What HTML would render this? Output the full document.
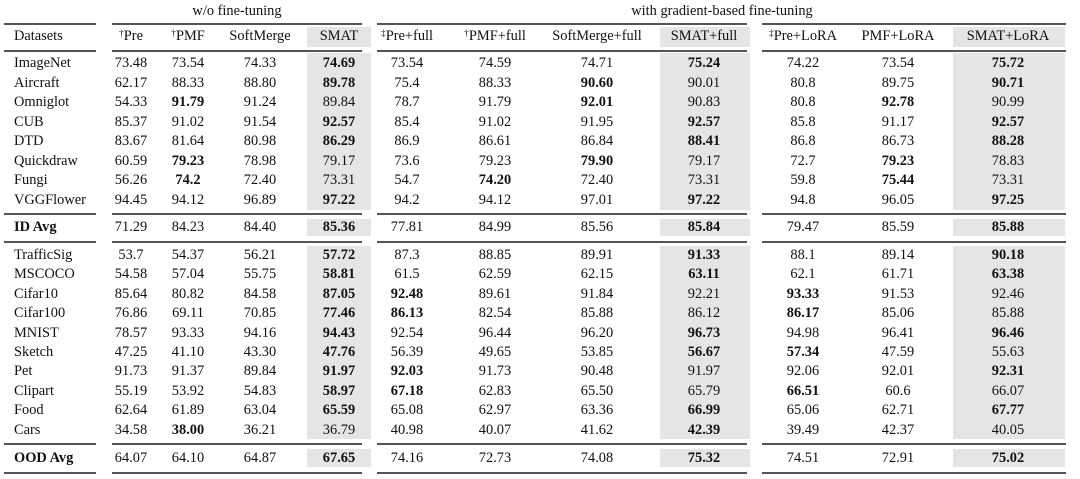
<!DOCTYPE html>
<html><head><meta charset="utf-8">
<style>
body{margin:0;background:#fff;width:1080px;height:479px;overflow:hidden;position:relative;font-family:"Liberation Serif",serif;color:#111}
.t{position:absolute;font-size:14.4px;white-space:nowrap;transform:translate(-50%,-50%);line-height:1}
.l{position:absolute;font-size:14.4px;white-space:nowrap;transform:translateY(-50%);line-height:1}
.r{position:absolute;background:#555;height:1.5px}
.s{position:absolute;background:#e5e5e5}
sup{font-size:9.5px;vertical-align:4px}
</style></head><body>
<div id="tbl"></div>
<script>
const groupTitles=["w/o fine-tuning","with gradient-based fine-tuning"];
const headers=["<sup>†</sup>Pre","<sup>†</sup>PMF","SoftMerge","SMAT","<sup>‡</sup>Pre+full","<sup>†</sup>PMF+full","SoftMerge+full","SMAT+full","<sup>‡</sup>Pre+LoRA","PMF+LoRA","SMAT+LoRA"];
const datasets=["ImageNet","Aircraft","Omniglot","CUB","DTD","Quickdraw","Fungi","VGGFlower","ID Avg","TrafficSig","MSCOCO","Cifar10","Cifar100","MNIST","Sketch","Pet","Clipart","Food","Cars","OOD Avg"];
const values=[
"73.48 73.54 74.33 *74.69 73.54 74.59 74.71 *75.24 74.22 73.54 *75.72",
"62.17 88.33 88.80 *89.78 75.4 88.33 *90.60 90.01 80.8 89.75 *90.71",
"54.33 *91.79 91.24 89.84 78.7 91.79 *92.01 90.83 80.8 *92.78 90.99",
"85.37 91.02 91.54 *92.57 85.4 91.02 91.95 *92.57 85.8 91.17 *92.57",
"83.67 81.64 80.98 *86.29 86.9 86.61 86.84 *88.41 86.8 86.73 *88.28",
"60.59 *79.23 78.98 79.17 73.6 79.23 *79.90 79.17 72.7 *79.23 78.83",
"56.26 *74.2 72.40 73.31 54.7 *74.20 72.40 73.31 59.8 *75.44 73.31",
"94.45 94.12 96.89 *97.22 94.2 94.12 97.01 *97.22 94.8 96.05 *97.25",
"71.29 84.23 84.40 *85.36 77.81 84.99 85.56 *85.84 79.47 85.59 *85.88",
"53.7 54.37 56.21 *57.72 87.3 88.85 89.91 *91.33 88.1 89.14 *90.18",
"54.58 57.04 55.75 *58.81 61.5 62.59 62.15 *63.11 62.1 61.71 *63.38",
"85.64 80.82 84.58 *87.05 *92.48 89.61 91.84 92.21 *93.33 91.53 92.46",
"76.86 69.11 70.85 *77.46 *86.13 82.54 85.88 86.12 *86.17 85.06 85.88",
"78.57 93.33 94.16 *94.43 92.54 96.44 96.20 *96.73 94.98 96.41 *96.46",
"47.25 41.10 43.30 *47.76 56.39 49.65 53.85 *56.67 *57.34 47.59 55.63",
"91.73 91.37 89.84 *91.97 *92.03 91.73 90.48 91.97 92.06 92.01 *92.31",
"55.19 53.92 54.83 *58.97 *67.18 62.83 65.50 65.79 *66.51 60.6 66.07",
"62.64 61.89 63.04 *65.59 65.08 62.97 63.36 *66.99 65.06 62.71 *67.77",
"34.58 *38.00 36.21 36.79 40.98 40.07 41.62 *42.39 39.49 42.37 40.05",
"64.07 64.10 64.87 *67.65 74.16 72.73 74.08 *75.32 74.51 72.91 *75.02"];
const T=document.getElementById('tbl');
const colX=[131,188,260,339,407,495,597,704,803,898,1008];
const rowY=[63,82.5,102,121.5,141,160.5,180,199.5,227,255,274.4,293.8,313.2,332.6,352,371.4,390.8,410.2,429.6,458];
const segs=[[4,96],[112,362],[377,747],[762,1066]];
function add(cls,html,st){const d=document.createElement('div');d.className=cls;d.innerHTML=html;Object.assign(d.style,st);T.appendChild(d);return d;}
const shades=[[307,371],[660,750],[953,1065]];
const shadeY=[[27,47],[53,210],[219,236],[246,439],[449,467]];
shades.forEach(([a,b])=>shadeY.forEach(([y1,y2])=>{const d=add('s','',{left:a+'px',width:(b-a)+'px',top:y1+'px',height:(y2-y1)+'px'});

}));
[23,50,213,241,443,472].forEach((y,i)=>segs.forEach(([a,b])=>{const d=add('r','',{left:a+'px',width:(b-a)+'px',top:y+'px',height:(i==0||i==5?'2px':'1.5px')});

}));
let g=add('t',groupTitles[0],{left:'237px',top:'11px'});


g=add('t',groupTitles[1],{left:'722px',top:'11px'});


let h=add('l','Datasets',{left:'14px',top:'36px'});


headers.forEach((t,i)=>{const d=add('t',t,{left:colX[i]+'px',top:'36px'});

});
datasets.forEach((n,r)=>{const bold=n.includes('Avg');
const d=add('l',n,{left:'14px',top:rowY[r]+'px',fontWeight:bold?'bold':'normal'});


values[r].split(' ').forEach((v,c)=>{const b=v[0]=='*';const e=add('t',b?v.slice(1):v,{left:colX[c]+'px',top:rowY[r]+'px',fontWeight:b?'bold':'normal'});

});});
</script>
</body></html>
